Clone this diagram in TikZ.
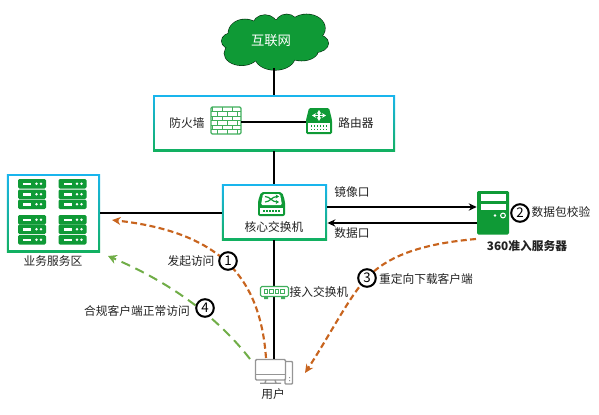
\documentclass[tikz,border=0pt]{standalone}
\usepackage{fontspec}
\setmainfont{Noto Sans CJK SC}
\usetikzlibrary{arrows.meta,calc}
\definecolor{gd}{HTML}{0F9A36}
\definecolor{gl}{HTML}{3FAE5B}
\definecolor{bc}{HTML}{19B5EE}
\definecolor{bg}{HTML}{12B060}
\definecolor{tx}{HTML}{222222}
\definecolor{oc}{HTML}{C8641E}
\definecolor{lg}{HTML}{70AD47}
\definecolor{gr}{HTML}{959595}
\tikzset{
  x=0.75pt,y=-0.75pt,
  lab/.style={font=\fontsize{8.8pt}{10pt}\selectfont,text=tx,inner sep=0pt},
  gbox/.style={rectangle,top color=bc,bottom color=bg,inner sep=0pt},
  ginner/.style={rectangle,fill=white,inner sep=0pt},
  iconbox/.style={rectangle,inner sep=0pt},
  wire/.style={line width=1.5pt,black},
  dashO/.style={line width=1.6pt,oc,dash pattern=on 4.5pt off 2.5pt,-{Stealth[length=6.5pt,width=6pt]}},
  dashG/.style={line width=1.5pt,lg,dash pattern=on 7pt off 4.5pt,-{Stealth[length=6.5pt,width=7pt]}},
  badge/.style={circle,draw=black,line width=1.5pt,fill=white,minimum size=13.2pt,inner sep=0pt,font=\fontsize{10pt}{10pt}\selectfont},
}
\newcommand{\rackunit}[2]{%
  \fill[gd,rounded corners=1pt] (#1,#2) rectangle ++(28,9.5);
  \fill[white] (#1+5,#2+3.5) rectangle ++(8,2.5);
  \fill[white] (#1+18.5,#2+4.7) circle (1.3) (#1+23,#2+4.7) circle (1.3);
}
\newcommand{\lobes}{(175,110,110,65),(55,108,35,25),(90,85,50,42),(150,65,38,35),(215,62,35,34),(275,70,55,42),(300,115,40,27),(260,135,50,32),(180,155,60,40),(80,145,52,36)}
\begin{document}
\begin{tikzpicture}
\useasboundingbox (0,0) rectangle (599,414);
% cloud: outlined lobes, then their fill over the inner outlines
\foreach \a/\b/\c/\d in {175/110/110/65,55/108/35/25,90/85/50/42,150/65/38/35,215/62/35/34,275/70/55/42,300/115/40/27,260/135/50/32,180/155/60/40,80/145/52/36}{
  \draw[black!70!gd,line width=.9pt] ({215+\a/3},{5+\b/3}) ellipse [x radius={\c/3},y radius={\d/3}];
}
\foreach \a/\b/\c/\d in {175/110/110/65,55/108/35/25,90/85/50/42,150/65/38/35,215/62/35/34,275/70/55/42,300/115/40/27,260/135/50/32,180/155/60/40,80/145/52/36}{
  \fill[gd] ({215+\a/3},{5+\b/3}) ellipse [x radius={\c/3},y radius={\d/3}];
}
\node[iconbox,minimum width=79pt,minimum height=42pt] (cloud) at (274.3,40) {};
\node[gbox,minimum width=181.5pt,minimum height=42pt] (box1) at (274,123) {};
\node[ginner,minimum width=178.5pt,minimum height=39pt] (box1in) at (box1) {};
\node[gbox,minimum width=79pt,minimum height=42pt] (box2) at (274.5,212) {};
\node[ginner,minimum width=76pt,minimum height=39pt] (box2in) at (box2) {};
\node[gbox,minimum width=70pt,minimum height=58.5pt] (box3) at (53.5,213) {};
\node[ginner,minimum width=67pt,minimum height=55.5pt] (box3in) at (box3) {};
% firewall
\node[iconbox,minimum width=22.5pt,minimum height=20.5pt] (fw) at (226,120.5) {};
\fill[white,rounded corners=1pt] (211,107) rectangle (241,134);
\begin{scope}
\clip[rounded corners=1pt] (211,107) rectangle (241,134);
\foreach \r in {1,...,5}{\draw[gl,line width=.75pt] (211,{107+\r*4.5}) -- (241,{107+\r*4.5});}
\foreach \r/\s in {0/0,1/5,2/0,3/5,4/0,5/5}{
  \foreach \c in {0,1,2,3}{
    \draw[gl,line width=.75pt] ({212+\c*10+\s},{107+\r*4.5}) -- ++(0,4.5);
  }
}
\end{scope}
\draw[gl,line width=.9pt,rounded corners=1pt] (211,107) rectangle (241,134);
% router
\node[iconbox,minimum width=19pt,minimum height=20pt] (rt) at (318.5,121) {};
\fill[gd,rounded corners=1pt] (309,108) -- (329,108) -- (332,120) -- (332,134) -- (306,134) -- (306,120) -- cycle;
\fill[white] (308,123) rectangle (330,132);
\foreach \c in {0,...,5}{\fill[gd] ({310.5+\c*3},125) rectangle ++(1.8,1.8);\fill[gd] ({310.5+\c*3},128.5) rectangle ++(1.8,1.8);}
\draw[white,line width=1pt,{Stealth[length=3pt,width=3.5pt]}-{Stealth[length=3pt,width=3.5pt]}] (319,110) -- (319,121);
\draw[white,line width=1pt,{Stealth[length=3pt,width=3.5pt]}-{Stealth[length=3pt,width=3.5pt]}] (312,115.5) -- (326,115.5);
% core switch
\node[iconbox,minimum width=20pt,minimum height=18pt] (sw) at (271.5,204) {};
\fill[gd,rounded corners=1.5pt] (261,192) -- (282,192) -- (285,201) -- (285,216) -- (258,216) -- (258,201) -- cycle;
\fill[white,rounded corners=1pt] (263,194) -- (280,194) -- (282,205) -- (261,205) -- cycle;
\fill[white] (260,208) rectangle (283,214);
\foreach \c in {0,...,5}{\fill[gd] ({263+\c*3},210) rectangle ++(2,2);}
\draw[gd,line width=.9pt,-{Stealth[length=2.5pt,width=3pt]}] (265,196.5) .. controls (270,196.5) and (272,202) .. (279,202);
\draw[gd,line width=.9pt,-{Stealth[length=2.5pt,width=3pt]}] (265,202) .. controls (270,202) and (272,196.5) .. (279,196.5);
% racks
\foreach \x in {18,58.5}{\foreach \y in {179,189.5,199.5,215,224.5,235}{\rackunit{\x}{\y}}}
% server
\node[iconbox,minimum width=24pt,minimum height=32.5pt] (srv) at (493,212.5) {};
\fill[gd,rounded corners=1pt] (477,191) rectangle (509,234.5);
\fill[white] (480.5,194) rectangle (506,200.5);
\fill[white] (480.5,203.5) rectangle (506,210);
\fill[white] (495,215.5) circle (1.3);
\draw[white,line width=.8pt] (503,215.5) circle (2.4);
% user
\node[iconbox,minimum width=28.5pt,minimum height=18pt] (usr) at (274,371) {};
\draw[gr,line width=1.1pt,fill=white,rounded corners=.6pt] (285,361.5) rectangle (292.5,384);
\fill[gr] (289,377) rectangle ++(1,1) (289,380) rectangle ++(1,1);
\draw[gr,line width=1.1pt,fill=white,rounded corners=.8pt] (255.5,359.5) rectangle (285.5,380);
\draw[gr,line width=.8pt] (255.5,374.5) -- (285.5,374.5);
\draw[gr,line width=1pt] (266,380) -- (265,383) (275,380) -- (276,383) (260,383.3) -- (281,383.3);
% free ends
\coordinate (oStart) at (266,358);
\coordinate (oEnd) at (112,220);
\coordinate (gStart) at (250,359);
\coordinate (gEnd) at (108,256);
\coordinate (rStart) at (476,239);
\coordinate (rEnd) at (305,373);
\coordinate (rMid) at (367,278);
% connectors
\draw[wire] (cloud.south) -- (box1.north -| cloud.south);
\draw[wire] (box1.south -| cloud.south) -- (box2.north -| cloud.south);
\draw[wire] (fw.east |- 0,122) -- (rt.west |- 0,122);
\draw[wire] (box3.east |- 0,212.5) -- (box2.west |- 0,212.5);
\draw[wire] (box2.south -| cloud.south) -- (usr.north -| cloud.south);
\draw[wire,-{Stealth[length=6pt,width=5.5pt]}] (box2.east |- 0,207) -- (srv.west |- 0,207);
\draw[wire,-{Stealth[length=6pt,width=5.5pt]}] (srv.west |- 0,223) -- (box2.east |- 0,223);
\draw[dashO] (oStart) .. controls (260,275) and (218,232) .. (oEnd);
\draw[dashG] (gStart) .. controls (212,310) and (160,278) .. (gEnd);
\draw[dashO] (rStart) .. controls (430,243) and (390,253) .. (rMid) .. controls (350,295) and (330,335) .. (rEnd);
% access switch
\node[iconbox,minimum width=21.5pt,minimum height=10pt] (acc) at (274.5,292) {};
\draw[gl,line width=.8pt,rounded corners=1pt,fill=white] (260.5,286.5) rectangle (288.5,296.5);
\foreach \c in {0,1,2,3}{\draw[gl,line width=.7pt] ({264+\c*5.5},289.5) rectangle ++(3.5,3.5);}
\fill[gl] (264,296.5) rectangle ++(4,2.5) (281,296.5) rectangle ++(4,2.5);
% badges
\node[badge] (b1) at (228,261) {1};
\node[badge] (b2) at (520,213) {2};
\node[badge] (b3) at (367,278) {3};
\node[badge] (b4) at (205,308) {4};
% labels
\node[lab,font=\fontsize{10pt}{10pt}\selectfont,text=white] (lcl) at (271,41) {互联网};
\node[lab] (lfw) at (187,123) {防火墙};
\node[lab] (lrt) at (356,123) {路由器};
\node[lab] (lsw) at (274,227) {核心交换机};
\node[lab] (lm) at (352,192.5) {镜像口};
\node[lab] (ld) at (352,233) {数据口};
\node[lab] (lc) at (561,212) {数据包校验};
\node[lab,font=\fontsize{8.8pt}{10pt}\selectfont\bfseries] (ls) at (527,246) {360准入服务器};
\node[lab] (lr) at (426,279) {重定向下载客户端};
\node[lab] (lv) at (191,261) {发起访问};
\node[lab] (lok) at (137,311) {合规客户端正常访问};
\node[lab] (la) at (319,292) {接入交换机};
\node[lab] (lu) at (273,394) {用户};
\node[lab] (lb) at (53,261) {业务服务区};
\end{tikzpicture}
\end{document}
